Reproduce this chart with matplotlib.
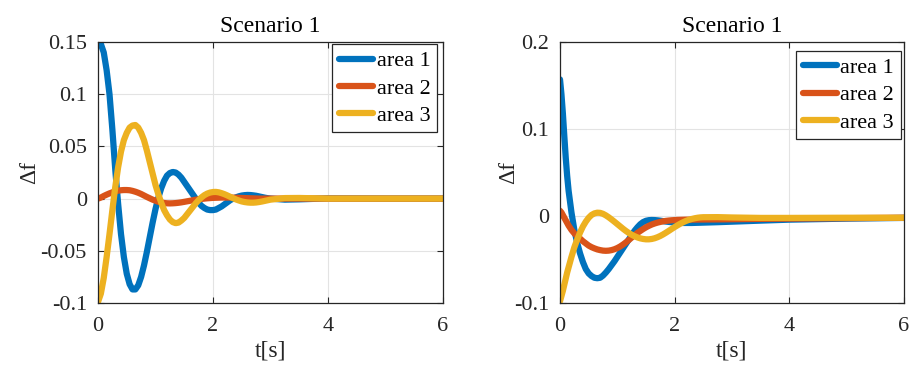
import matplotlib
matplotlib.use("Agg")
import matplotlib.pyplot as plt

plt.rcParams['font.family'] = ['Liberation Serif', 'DejaVu Serif']
plt.rcParams['axes.unicode_minus'] = False

# ---------------- data ----------------
title_text = "Scenario 1"
series_labels = ["area 1", "area 2", "area 3"]
series_colors = ["#0072BD", "#D95319", "#EDB120"]

t_left = [0.00, 0.05, 0.10, 0.15, 0.20, 0.25, 0.30, 0.35, 0.40, 0.45,
          0.50, 0.55, 0.60, 0.65, 0.70, 0.75, 0.80, 0.85, 0.90, 0.95,
          1.00, 1.05, 1.10, 1.15, 1.20, 1.25, 1.30, 1.35, 1.40, 1.45,
          1.50, 1.55, 1.60, 1.65, 1.70, 1.75, 1.80, 1.85, 1.90, 1.95,
          2.00, 2.05, 2.10, 2.15, 2.20, 2.25, 2.30, 2.35, 2.40, 2.45,
          2.50, 2.55, 2.60, 2.65, 2.70, 2.75, 2.80, 2.85, 2.90, 2.95,
          3.00, 3.25, 3.50, 4.00, 5.00, 6.00]
left_area1 = [0.150, 0.148, 0.140, 0.123, 0.100, 0.066, 0.028, -0.005, -0.034, -0.056,
              -0.072, -0.082, -0.087, -0.087, -0.083, -0.075, -0.064, -0.051, -0.037, -0.023,
              -0.010, 0.001, 0.010, 0.017, 0.022, 0.0245, 0.0255, 0.025, 0.023, 0.020,
              0.016, 0.012, 0.008, 0.004, 0.000, -0.004, -0.007, -0.009, -0.0105, -0.011,
              -0.011, -0.0105, -0.009, -0.0075, -0.0055, -0.0035, -0.0015, 0.0, 0.0012, 0.0022,
              0.0029, 0.0033, 0.0035, 0.0034, 0.0031, 0.0027, 0.0021, 0.0015, 0.0009, 0.0004,
              0.0, -0.001, -0.0007, 0.0002, 0.0, 0.0]
left_area2 = [0.000, 0.001, 0.0025, 0.0038, 0.005, 0.006, 0.007, 0.0076, 0.008, 0.0082,
              0.0082, 0.008, 0.0074, 0.0066, 0.0056, 0.0044, 0.003, 0.0016, 0.0003, -0.001,
              -0.002, -0.003, -0.0037, -0.0042, -0.0045, -0.0046, -0.0045, -0.0043, -0.004, -0.0036,
              -0.0031, -0.0026, -0.0021, -0.0016, -0.0011, -0.0007, -0.0003, 0.0, 0.0003, 0.0005,
              0.0007, 0.0008, 0.0009, 0.001, 0.001, 0.001, 0.001, 0.0009, 0.0008, 0.0007,
              0.0006, 0.0005, 0.0004, 0.0003, 0.0002, 0.0001, 0.0, 0.0, 0.0, 0.0,
              0.0, 0.0, 0.0, 0.0, 0.0, 0.0]
left_area3 = [-0.099, -0.091, -0.076, -0.056, -0.034, -0.011, 0.011, 0.030, 0.045, 0.056,
              0.063, 0.068, 0.070, 0.0705, 0.068, 0.063, 0.056, 0.046, 0.035, 0.024,
              0.013, 0.004, -0.004, -0.011, -0.016, -0.020, -0.0225, -0.0235, -0.023, -0.021,
              -0.0185, -0.015, -0.0115, -0.008, -0.0045, -0.0015, 0.0012, 0.0033, 0.0048, 0.0058,
              0.0063, 0.0064, 0.006, 0.0052, 0.0042, 0.003, 0.0017, 0.0004, -0.0008, -0.0018,
              -0.0027, -0.0033, -0.0037, -0.0039, -0.0039, -0.0037, -0.0033, -0.0028, -0.0022, -0.0016,
              -0.001, 0.0005, 0.0006, 0.0, 0.0, 0.0]

t_right = [0.000, 0.025, 0.050, 0.075, 0.100, 0.125, 0.150,
           0.20, 0.25, 0.30, 0.35, 0.40, 0.45, 0.50, 0.55, 0.60, 0.65,
           0.70, 0.75, 0.80, 0.85, 0.90, 0.95, 1.00, 1.05, 1.10, 1.15,
           1.20, 1.25, 1.30, 1.35, 1.40, 1.45, 1.50, 1.55, 1.60, 1.65,
           1.70, 1.75, 1.80, 1.85, 1.90, 1.95, 2.00, 2.05, 2.10, 2.15,
           2.20, 2.25, 2.30, 2.35, 2.40, 2.45, 2.50,
           2.75, 3.00, 3.50, 4.00, 5.00, 6.00]
right_area1 = [0.157, 0.140, 0.118, 0.092, 0.067, 0.046, 0.029,
               0.004, -0.016, -0.031, -0.043, -0.053, -0.061, -0.066, -0.069, -0.071, -0.0715,
               -0.071, -0.0685, -0.065, -0.061, -0.0565, -0.052, -0.047, -0.042, -0.037, -0.032,
               -0.027, -0.022, -0.017, -0.013, -0.0095, -0.007, -0.0055, -0.0048, -0.0046, -0.0047,
               -0.005, -0.0054, -0.0059, -0.0064, -0.0068, -0.0072, -0.0075, -0.0077, -0.0079, -0.008,
               -0.008, -0.008, -0.008, -0.0079, -0.0078, -0.0077, -0.0076,
               -0.0071, -0.0065, -0.0053, -0.0042, -0.003, -0.0022]
right_area2 = [0.006, 0.004, 0.001, -0.002, -0.005, -0.008, -0.011,
               -0.016, -0.020, -0.023, -0.026, -0.029, -0.0315, -0.034, -0.0358, -0.0372, -0.0384,
               -0.0392, -0.0398, -0.040, -0.0398, -0.0392, -0.0382, -0.0368, -0.035, -0.0328, -0.0303,
               -0.0276, -0.0248, -0.0221, -0.0195, -0.0172, -0.015, -0.013, -0.0113, -0.0098, -0.0086,
               -0.0076, -0.0068, -0.0061, -0.0056, -0.0052, -0.0049, -0.0047, -0.0045, -0.0044, -0.0043,
               -0.0042, -0.0042, -0.0041, -0.0041, -0.0041, -0.004, -0.004,
               -0.0039, -0.0037, -0.0033, -0.003, -0.0025, -0.002]
right_area3 = [-0.098, -0.092, -0.086, -0.079, -0.072, -0.065, -0.059,
               -0.047, -0.036, -0.027, -0.019, -0.012, -0.0065, -0.002, 0.0012, 0.003, 0.0038,
               0.0036, 0.0025, 0.0007, -0.0015, -0.004, -0.0066, -0.0093, -0.012, -0.0147, -0.0172,
               -0.0195, -0.0215, -0.0232, -0.0246, -0.0257, -0.0264, -0.0268, -0.0268, -0.0264, -0.0256,
               -0.0244, -0.0229, -0.0211, -0.0191, -0.0170, -0.0148, -0.0127, -0.0107, -0.0088, -0.0071,
               -0.0056, -0.0044, -0.0034, -0.0026, -0.002, -0.0016, -0.0014,
               -0.0013, -0.0017, -0.0022, -0.0022, -0.002, -0.002]

x_ticks = [0, 2, 4, 6]
left_yticks = [-0.1, -0.05, 0, 0.05, 0.1, 0.15]
left_yticklabels = ["-0.1", "-0.05", "0", "0.05", "0.1", "0.15"]
right_yticks = [-0.1, 0, 0.1, 0.2]
right_yticklabels = ["-0.1", "0", "0.1", "0.2"]

# ---------------- figure ----------------
W, H = 916, 365
fig = plt.figure(figsize=(W / 100, H / 100), dpi=100)

def make_axes(x0, x1, y_top, y_bot):
    return fig.add_axes([x0 / W, (H - y_bot) / H, (x1 - x0) / W, (y_bot - y_top) / H])

ax_l = make_axes(98, 443, 42, 303)
ax_r = make_axes(560, 904, 42, 303)

dark = "#262626"
fs_tick = 16
fs_leg = 16
fs_title = 17
fs_label = 17

def style(ax, t, ys, yticks, yticklabels, ylim, legend_anchor, ylabelpad):
    for y, c, lab in zip(ys, series_colors, series_labels):
        ax.plot(t, y, color=c, lw=4.5, label=lab, solid_capstyle='round',
                solid_joinstyle='round')
    ax.set_xlim(0, 6)
    ax.set_ylim(*ylim)
    ax.set_xticks(x_ticks)
    ax.set_xticklabels([str(v) for v in x_ticks])
    ax.set_yticks(yticks)
    ax.set_yticklabels(yticklabels)
    ax.grid(True, color="#e3e3e3", lw=0.8)
    ax.set_axisbelow(True)
    for s in ax.spines.values():
        s.set_color(dark)
        s.set_linewidth(0.9)
    ax.tick_params(direction='in', length=4, width=0.8, colors=dark,
                   labelsize=fs_tick, top=True, right=True)
    ax.tick_params(axis='y', pad=8)
    ax.tick_params(axis='x', pad=10)
    ax.set_title(title_text, fontsize=fs_title, color="black", pad=7)
    ax.set_xlabel("t[s]", fontsize=fs_label, color=dark, labelpad=3)
    ax.set_ylabel("Δf", fontsize=fs_label, color=dark, labelpad=ylabelpad)
    leg = ax.legend(loc='upper right', bbox_to_anchor=legend_anchor,
                    borderaxespad=0, fontsize=fs_leg, handlelength=1.55,
                    handletextpad=0.15, labelspacing=0.3, borderpad=0.3,
                    fancybox=False, framealpha=1, edgecolor=dark)
    leg.get_frame().set_linewidth(0.9)

style(ax_l, t_left, [left_area1, left_area2, left_area3],
      left_yticks, left_yticklabels, (-0.1, 0.15), (0.983, 0.992), 0.5)
style(ax_r, t_right, [right_area1, right_area2, right_area3],
      right_yticks, right_yticklabels, (-0.1, 0.2), (0.991, 0.966), -4)

fig.savefig("out.png", dpi=100)
